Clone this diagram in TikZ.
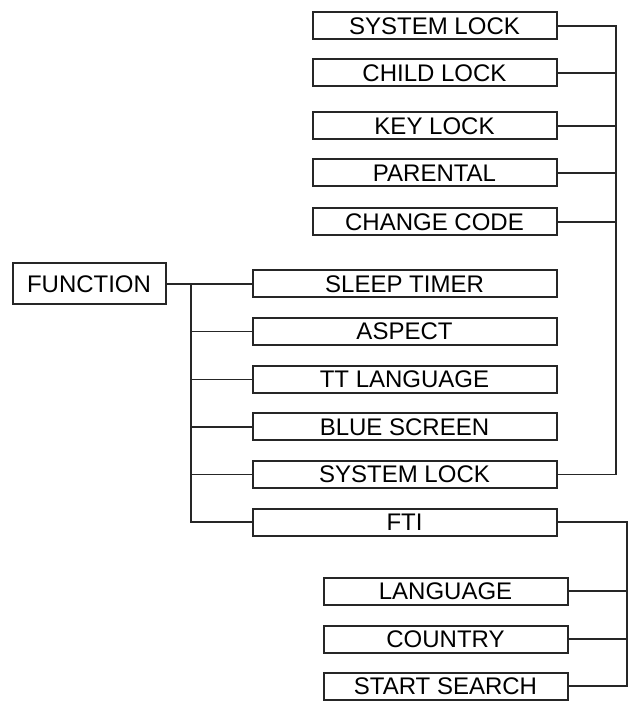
\documentclass[tikz,border=0pt]{standalone}
\usepackage{fontspec}
\setmainfont{Liberation Sans}
\usepackage{tikz}
\usetikzlibrary{positioning, calc}

\begin{document}
\begin{tikzpicture}[
    x=0.5pt, y=-0.5pt,
    box/.style={rectangle, draw=black!85, line width=1pt, fill=white, inner sep=0pt,
                minimum height=13.5pt, align=center, font=\fontsize{12}{14}\selectfont},
    lockbox/.style={box, minimum width=122pt},
    menubox/.style={box, minimum width=152pt},
    rootbox/.style={box, minimum width=76.5pt, minimum height=20.5pt},
    link/.style={draw=black!85, line width=0.7pt}
]
\useasboundingbox (0,0) rectangle (629,704);

% lock sub menu
\node[lockbox] (lsys)    at (434.5,26)  {SYSTEM LOCK};
\node[lockbox] (lchild)  at (434.5,73)  {CHILD LOCK};
\node[lockbox] (lkey)    at (434.5,126) {KEY LOCK};
\node[lockbox] (lparent) at (434.5,173) {PARENTAL};
\node[lockbox] (lcode)   at (434.5,222) {CHANGE CODE};

% function menu
\node[rootbox] (func) at (89,284) {FUNCTION};
\node[menubox] (sleep)  at (404.5,284)   {SLEEP TIMER};
\node[menubox] (aspect) at (404.5,331.6) {ASPECT};
\node[menubox] (ttlang) at (404.5,379.2) {TT LANGUAGE};
\node[menubox] (blue)   at (404.5,426.8) {BLUE SCREEN};
\node[menubox] (syslock) at (404.5,474.4) {SYSTEM LOCK};
\node[menubox] (fti)    at (404.5,522)   {FTI};

% fti sub menu
\node[lockbox] (flang)    at (445.5,591) {LANGUAGE};
\node[lockbox] (fcountry) at (445.5,639) {COUNTRY};
\node[lockbox] (fsearch)  at (445.5,686) {START SEARCH};

% bus lines
\coordinate (fbus)    at (191,0);
\coordinate (lockbus) at (616,0);
\coordinate (ftibus)  at (627,0);

\draw[link] (func.east) -- (sleep.west);
\draw[link] (func.east -| fbus) |- (fti.west);
\draw[link] (aspect.west -| fbus) -- (aspect.west);
\draw[link] (ttlang.west -| fbus) -- (ttlang.west);
\draw[link] (blue.west -| fbus) -- (blue.west);
\draw[link] (syslock.west -| fbus) -- (syslock.west);

\draw[link] (syslock.east) -| (lockbus |- lsys.east) -- (lsys.east);
\draw[link] (lchild.east) -- (lchild.east -| lockbus);
\draw[link] (lkey.east) -- (lkey.east -| lockbus);
\draw[link] (lparent.east) -- (lparent.east -| lockbus);
\draw[link] (lcode.east) -- (lcode.east -| lockbus);

\draw[link] (fti.east) -| (ftibus |- fsearch.east) -- (fsearch.east);
\draw[link] (flang.east) -- (flang.east -| ftibus);
\draw[link] (fcountry.east) -- (fcountry.east -| ftibus);
\end{tikzpicture}
\end{document}
